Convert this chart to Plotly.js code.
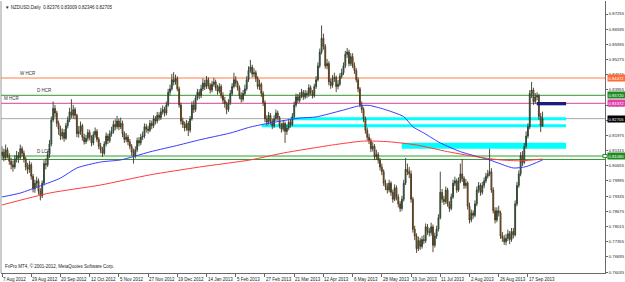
<!DOCTYPE html>
<html><head><meta charset="utf-8">
<script src="https://cdn.plot.ly/plotly-3.0.1.min.js"></script>
<style>html,body{margin:0;padding:0;background:#fff;}#chart{width:625px;height:282px;}</style>
</head><body><div id="chart"></div>
<script>
// ---------- data ----------
const firstDate = '2012-08-07';
const closedDays = ['2012-12-25','2013-01-01'];
const tickDates = ['2012-08-07','2012-08-29','2012-09-20','2012-10-12','2012-11-05','2012-11-27','2012-12-19','2013-01-14','2013-02-05','2013-02-27','2013-03-21','2013-04-12','2013-05-06','2013-05-28','2013-06-19','2013-07-11','2013-08-02','2013-08-26','2013-09-17'];
const tickLabels = ['7 Aug 2012','29 Aug 2012','20 Sep 2012','12 Oct 2012','5 Nov 2012','27 Nov 2012','19 Dec 2012','14 Jan 2013','5 Feb 2013','27 Feb 2013','21 Mar 2013','12 Apr 2013','6 May 2013','28 May 2013','19 Jun 2013','11 Jul 2013','2 Aug 2013','26 Aug 2013','17 Sep 2013'];
const priceTicks = [0.76035,0.76695,0.77355,0.78015,0.78675,0.79335,0.79995,0.80655,0.81315,0.81975,0.82635,0.83295,0.83955,0.84615,0.85275,0.85935,0.86595,0.87255];

const open = [
0.8110,0.8125,0.8100,0.8135,0.8110,0.8085,0.8070,0.8060,0.8095,0.8110,0.8100,0.8140,0.8120,0.8095,0.8060,0.8050,
0.8070,0.8020,0.7965,0.7990,0.8000,0.7955,0.7935,0.7990,0.8075,0.8070,0.8115,0.8160,0.8265,0.8315,0.8295,0.8250,
0.8225,0.8195,0.8210,0.8185,0.8240,0.8265,0.8300,0.8285,0.8310,0.8285,0.8205,0.8215,0.8240,0.8190,0.8170,0.8185,
0.8210,0.8190,0.8165,0.8200,0.8215,0.8180,0.8150,0.8135,0.8120,0.8160,0.8195,0.8175,0.8205,0.8215,0.8245,0.8235,
0.8260,0.8235,0.8250,0.8205,0.8180,0.8190,0.8170,0.8150,0.8125,0.8110,0.8135,0.8175,0.8165,0.8190,0.8195,0.8235,
0.8225,0.8220,0.8250,0.8240,0.8270,0.8260,0.8285,0.8275,0.8300,0.8310,0.8295,0.8330,0.8385,0.8400,0.8440,0.8430,
0.8445,0.8400,0.8330,0.8260,0.8245,0.8230,0.8250,0.8220,0.8270,0.8330,0.8310,0.8360,0.8385,0.8370,0.8400,0.8425,
0.8410,0.8440,0.8415,0.8395,0.8420,0.8430,0.8405,0.8390,0.8410,0.8370,0.8350,0.8335,0.8310,0.8340,0.8380,0.8410,
0.8440,0.8425,0.8405,0.8370,0.8355,0.8380,0.8400,0.8440,0.8480,0.8495,0.8465,0.8470,0.8445,0.8410,0.8420,0.8380,
0.8340,0.8270,0.8255,0.8285,0.8260,0.8240,0.8270,0.8295,0.8275,0.8240,0.8225,0.8250,0.8215,0.8230,0.8255,0.8245,
0.8280,0.8330,0.8365,0.8350,0.8370,0.8385,0.8365,0.8380,0.8375,0.8405,0.8385,0.8370,0.8410,0.8440,0.8500,0.8560,
0.8620,0.8585,0.8500,0.8510,0.8430,0.8415,0.8445,0.8450,0.8410,0.8420,0.8455,0.8470,0.8500,0.8550,0.8560,0.8510,
0.8540,0.8500,0.8480,0.8440,0.8400,0.8330,0.8310,0.8270,0.8220,0.8190,0.8175,0.8140,0.8150,0.8105,0.8115,0.8090,
0.8060,0.8040,0.7990,0.7975,0.7960,0.7990,0.7950,0.7920,0.7970,0.7930,0.7900,0.7880,0.7920,0.7990,0.8050,0.8040,
0.8030,0.7920,0.7790,0.7760,0.7705,0.7740,0.7715,0.7745,0.7740,0.7800,0.7780,0.7775,0.7800,0.7720,0.7760,0.7790,
0.7840,0.7950,0.7920,0.7910,0.7960,0.7900,0.7880,0.7930,0.7990,0.8000,0.7960,0.8000,0.8030,0.8010,0.7980,0.7990,
0.7890,0.7830,0.7860,0.7850,0.7900,0.7960,0.7980,0.7950,0.7980,0.8000,0.8020,0.8030,0.8040,0.7960,0.7870,0.7830,
0.7870,0.7860,0.7760,0.7750,0.7735,0.7750,0.7770,0.7745,0.7780,0.7765,0.7900,0.7980,0.8030,0.8110,0.8080,0.8150,
0.8195,0.8235,0.8380,0.8395,0.8345,0.8365,0.8370,0.8280,0.82376];
const high = [
0.8150,0.8140,0.8158,0.8145,0.8120,0.8100,0.8088,0.8112,0.8130,0.8125,0.8158,0.8150,0.8132,0.8105,0.8078,0.8088,
0.8080,0.8030,0.8005,0.8018,0.8010,0.7968,0.8002,0.8090,0.8098,0.8130,0.8178,0.8280,0.8345,0.8330,0.8305,0.8262,
0.8240,0.8228,0.8225,0.8252,0.8280,0.8318,0.8355,0.8330,0.8320,0.8292,0.8238,0.8258,0.8248,0.8205,0.8200,0.8225,
0.8222,0.8198,0.8215,0.8232,0.8225,0.8190,0.8165,0.8148,0.8172,0.8210,0.8205,0.8220,0.8235,0.8262,0.8268,0.8282,
0.8270,0.8275,0.8262,0.8215,0.8208,0.8200,0.8182,0.8160,0.8140,0.8150,0.8188,0.8190,0.8205,0.8215,0.8250,0.8248,
0.8240,0.8265,0.8262,0.8285,0.8282,0.8300,0.8298,0.8318,0.8328,0.8322,0.8345,0.8400,0.8418,0.8465,0.8473,0.8462,
0.8455,0.8410,0.8340,0.8275,0.8258,0.8265,0.8260,0.8282,0.8345,0.8350,0.8372,0.8400,0.8398,0.8418,0.8445,0.8440,
0.8456,0.8450,0.8425,0.8435,0.8448,0.8440,0.8418,0.8425,0.8420,0.8385,0.8365,0.8345,0.8355,0.8395,0.8425,0.8470,
0.8455,0.8435,0.8415,0.8385,0.8395,0.8418,0.8455,0.8498,0.8526,0.8505,0.8490,0.8480,0.8455,0.8440,0.8428,0.8390,
0.8350,0.8285,0.8300,0.8295,0.8270,0.8285,0.8310,0.8305,0.8282,0.8252,0.8265,0.8258,0.8245,0.8270,0.8268,0.8295,
0.8345,0.8380,0.8378,0.8385,0.8400,0.8395,0.8395,0.8392,0.8420,0.8415,0.8395,0.8422,0.8455,0.8515,0.8575,0.8676,
0.8640,0.8595,0.8530,0.8520,0.8445,0.8460,0.8470,0.8458,0.8438,0.8468,0.8488,0.8515,0.8565,0.8578,0.8570,0.8555,
0.8555,0.8515,0.8490,0.8450,0.8408,0.8345,0.8320,0.8280,0.8232,0.8205,0.8185,0.8168,0.8160,0.8135,0.8125,0.8100,
0.8075,0.8050,0.8005,0.7990,0.8005,0.7998,0.7962,0.7985,0.7980,0.7942,0.7912,0.7935,0.8005,0.8100,0.8075,0.8060,
0.8045,0.7930,0.7805,0.7772,0.7758,0.7752,0.7760,0.7765,0.7815,0.7812,0.7795,0.7818,0.7810,0.7775,0.7805,0.7855,
0.8040,0.7965,0.7935,0.7975,0.7970,0.7912,0.7945,0.8005,0.8018,0.8010,0.8015,0.8075,0.8095,0.8020,0.8008,0.7998,
0.7905,0.7875,0.7872,0.7915,0.7975,0.7995,0.7990,0.7995,0.8015,0.8035,0.8048,0.8140,0.8055,0.7972,0.7885,0.7885,
0.7892,0.7870,0.7778,0.7765,0.7768,0.7788,0.7782,0.7795,0.7795,0.7915,0.7995,0.8045,0.8125,0.8130,0.8165,0.8215,
0.8250,0.8395,0.8430,0.8405,0.8382,0.8385,0.8378,0.8295,0.83009];
const low = [
0.8095,0.8085,0.8090,0.8098,0.8070,0.8050,0.8040,0.8052,0.8080,0.8078,0.8092,0.8105,0.8080,0.8045,0.8030,0.8035,
0.8005,0.7950,0.7948,0.7972,0.7940,0.7915,0.7925,0.7980,0.8050,0.8060,0.8100,0.8150,0.8255,0.8275,0.8235,0.8200,
0.8178,0.8180,0.8170,0.8178,0.8228,0.8255,0.8272,0.8270,0.8268,0.8190,0.8188,0.8200,0.8175,0.8158,0.8160,0.8172,
0.8176,0.8150,0.8155,0.8188,0.8168,0.8138,0.8120,0.8104,0.8112,0.8150,0.8160,0.8165,0.8192,0.8205,0.8220,0.8225,
0.8220,0.8225,0.8190,0.8165,0.8168,0.8155,0.8138,0.8110,0.8075,0.8098,0.8125,0.8150,0.8155,0.8178,0.8185,0.8210,
0.8205,0.8212,0.8225,0.8230,0.8245,0.8250,0.8262,0.8265,0.8288,0.8280,0.8285,0.8322,0.8372,0.8392,0.8415,0.8418,
0.8390,0.8318,0.8245,0.8230,0.8215,0.8218,0.8195,0.8210,0.8262,0.8295,0.8300,0.8350,0.8355,0.8360,0.8390,0.8395,
0.8400,0.8400,0.8380,0.8385,0.8410,0.8392,0.8375,0.8380,0.8358,0.8335,0.8318,0.8290,0.8300,0.8330,0.8370,0.8402,
0.8410,0.8392,0.8355,0.8340,0.8345,0.8370,0.8392,0.8430,0.8470,0.8450,0.8452,0.8430,0.8398,0.8395,0.8365,0.8325,
0.8255,0.8240,0.8245,0.8245,0.8225,0.8230,0.8260,0.8262,0.8228,0.8210,0.8215,0.8165,0.8200,0.8220,0.8232,0.8238,
0.8272,0.8320,0.8338,0.8340,0.8360,0.8352,0.8355,0.8360,0.8365,0.8372,0.8358,0.8362,0.8400,0.8432,0.8490,0.8550,
0.8570,0.8488,0.8485,0.8415,0.8400,0.8405,0.8430,0.8386,0.8398,0.8412,0.8445,0.8460,0.8490,0.8535,0.8498,0.8500,
0.8490,0.8465,0.8428,0.8385,0.8320,0.8295,0.8255,0.8205,0.8175,0.8160,0.8125,0.8128,0.8090,0.8092,0.8075,0.8045,
0.8025,0.7978,0.7960,0.7945,0.7950,0.7935,0.7905,0.7912,0.7915,0.7885,0.7865,0.7870,0.7910,0.7982,0.8025,0.8012,
0.7905,0.7775,0.7742,0.7687,0.7695,0.7700,0.7705,0.7725,0.7730,0.7765,0.7758,0.7762,0.7690,0.7710,0.7748,0.7780,
0.7832,0.7905,0.7895,0.7900,0.7888,0.7865,0.7872,0.7922,0.7978,0.7948,0.7952,0.7990,0.7995,0.7965,0.7968,0.7875,
0.7815,0.7820,0.7835,0.7842,0.7890,0.7948,0.7935,0.7940,0.7968,0.7990,0.8010,0.8020,0.7948,0.7858,0.7815,0.7820,
0.7845,0.7748,0.7735,0.7722,0.7720,0.7738,0.7725,0.7735,0.7750,0.7758,0.7890,0.7970,0.8020,0.8065,0.8072,0.8140,
0.8185,0.8225,0.8360,0.8330,0.8335,0.8350,0.8265,0.8212,0.82346];
const close = [
0.8125,0.8100,0.8135,0.8110,0.8085,0.8070,0.8060,0.8095,0.8110,0.8100,0.8140,0.8120,0.8095,0.8060,0.8050,0.8070,
0.8020,0.7965,0.7990,0.8000,0.7955,0.7935,0.7990,0.8075,0.8070,0.8115,0.8160,0.8265,0.8315,0.8295,0.8250,0.8225,
0.8195,0.8210,0.8185,0.8240,0.8265,0.8300,0.8285,0.8310,0.8285,0.8205,0.8215,0.8240,0.8190,0.8170,0.8185,0.8210,
0.8190,0.8165,0.8200,0.8215,0.8180,0.8150,0.8135,0.8120,0.8160,0.8195,0.8175,0.8205,0.8215,0.8245,0.8235,0.8260,
0.8235,0.8250,0.8205,0.8180,0.8190,0.8170,0.8150,0.8125,0.8110,0.8135,0.8175,0.8165,0.8190,0.8195,0.8235,0.8225,
0.8220,0.8250,0.8240,0.8270,0.8260,0.8285,0.8275,0.8300,0.8310,0.8295,0.8330,0.8385,0.8400,0.8440,0.8430,0.8445,
0.8400,0.8330,0.8260,0.8245,0.8230,0.8250,0.8220,0.8270,0.8330,0.8310,0.8360,0.8385,0.8370,0.8400,0.8425,0.8410,
0.8440,0.8415,0.8395,0.8420,0.8430,0.8405,0.8390,0.8410,0.8370,0.8350,0.8335,0.8310,0.8340,0.8380,0.8410,0.8440,
0.8425,0.8405,0.8370,0.8355,0.8380,0.8400,0.8440,0.8480,0.8495,0.8465,0.8470,0.8445,0.8410,0.8420,0.8380,0.8340,
0.8270,0.8255,0.8285,0.8260,0.8240,0.8270,0.8295,0.8275,0.8240,0.8225,0.8250,0.8215,0.8230,0.8255,0.8245,0.8280,
0.8330,0.8365,0.8350,0.8370,0.8385,0.8365,0.8380,0.8375,0.8405,0.8385,0.8370,0.8410,0.8440,0.8500,0.8560,0.8620,
0.8585,0.8500,0.8510,0.8430,0.8415,0.8445,0.8450,0.8410,0.8420,0.8455,0.8470,0.8500,0.8550,0.8560,0.8510,0.8540,
0.8500,0.8480,0.8440,0.8400,0.8330,0.8310,0.8270,0.8220,0.8190,0.8175,0.8140,0.8150,0.8105,0.8115,0.8090,0.8060,
0.8040,0.7990,0.7975,0.7960,0.7990,0.7950,0.7920,0.7970,0.7930,0.7900,0.7880,0.7920,0.7990,0.8050,0.8040,0.8030,
0.7920,0.7790,0.7760,0.7705,0.7740,0.7715,0.7745,0.7740,0.7800,0.7780,0.7775,0.7800,0.7720,0.7760,0.7790,0.7840,
0.7950,0.7920,0.7910,0.7960,0.7900,0.7880,0.7930,0.7990,0.8000,0.7960,0.8000,0.8030,0.8010,0.7980,0.7990,0.7890,
0.7830,0.7860,0.7850,0.7900,0.7960,0.7980,0.7950,0.7980,0.8000,0.8020,0.8030,0.8040,0.7960,0.7870,0.7830,0.7870,
0.7860,0.7760,0.7750,0.7735,0.7750,0.7770,0.7745,0.7780,0.7765,0.7900,0.7980,0.8030,0.8110,0.8080,0.8150,0.8195,
0.8235,0.8380,0.8395,0.8345,0.8365,0.8370,0.8280,0.8240,0.82705];

// moving averages (sampled, bar number / value)
const maFastBars = [0,10,21,32,41,54,65,81,97,108,125,136,147,163,172,187,196,201,209,220,225,231,240,251,267,280,287,296];
const maFastVals = [0.7930,0.7947,0.7978,0.8012,0.8056,0.8082,0.8091,0.8126,0.8156,0.8178,0.8208,0.8234,0.8252,0.8273,0.8278,0.8308,0.8327,0.8328,0.8312,0.8279,0.8235,0.8208,0.8165,0.8127,0.8091,0.8056,0.8062,0.8091];
const maSlowBars = [0,26,54,81,108,136,154,181,198,212,227,244,262,273,284,296];
const maSlowVals = [0.7895,0.7947,0.7982,0.8026,0.8060,0.8091,0.8121,0.8156,0.8173,0.8170,0.8156,0.8127,0.8102,0.8091,0.8087,0.8095];

// horizontal levels
const levelNames  = ['W HCR','D HCR','M HCR','','D LCR',''];
const levelPrices = [0.84472,0.83720,0.83372,0.82705,0.81080,0.80930];
const levelLabelBars = [8.8,18,0,0,18,0];
const levelTagged = [true,true,true,true,true,false];

// zones (rectangles)
const zoneStartBar = [157.7,142.2,218.9];
const zoneEndBar   = [308.9,308.9,308.9];
const zoneTop      = [0.82769,0.82459,0.81659];
const zoneBottom   = [0.82630,0.82329,0.81398];
const navyZone = {start:292.8, end:308.9, top:0.83429, bottom:0.83285};

const headerText = '\u25BC NZDUSD,Daily  0.82376 0.83009 0.82346 0.82705';
const footerText = 'FxPro MT4, \u00A9 2001-2012, MetaQuotes Software Corp.';

// ---------- build ----------
const barDates = [];
{
  let d = new Date(firstDate + 'T00:00:00Z');
  while (barDates.length < close.length) {
    const s = d.toISOString().slice(0,10);
    const wd = d.getUTCDay();
    if (wd >= 1 && wd <= 5 && closedDays.indexOf(s) < 0) barDates.push(s);
    d = new Date(d.getTime() + 86400000);
  }
}
const bars = close.map((_, i) => i);
const tickIdx = tickDates.map(d => barDates.indexOf(d));

const FONT = 'Liberation Sans, Arial, sans-serif';
const FS = 4.5;
const AFS = 4.2;
const levelColors = ['#ff7a45','#2f9a2f','#d4449c','#a8a8a8','#2f9a2f','#2f9a2f'];
const tagColors   = ['#ff6a35','#1f8a1f','#e040a8','#000000','#1f8a1f',''];

const traces = [
  {type:'candlestick', x:bars, open:open, high:high, low:low, close:close,
   increasing:{line:{color:'#2c3e2e', width:0.9}, fillcolor:'#3e7048'},
   decreasing:{line:{color:'#4a3418', width:0.9}, fillcolor:'#b07a38'},
   whiskerwidth:0, hoverinfo:'skip', showlegend:false},
  {type:'scatter', mode:'lines', x:maFastBars, y:maFastVals, line:{color:'#3a3aff', width:1, shape:'spline', smoothing:0.6}, hoverinfo:'skip', showlegend:false},
  {type:'scatter', mode:'lines', x:maSlowBars, y:maSlowVals, line:{color:'#ff3c3c', width:1, shape:'spline', smoothing:0.6}, hoverinfo:'skip', showlegend:false}
];

const shapes = [];
zoneStartBar.forEach((s, i) => shapes.push({type:'rect', xref:'x', yref:'y', x0:s, x1:zoneEndBar[i], y0:zoneBottom[i], y1:zoneTop[i], fillcolor:'#00ffff', line:{width:0}, layer:'below'}));
shapes.push({type:'rect', xref:'x', yref:'y', x0:navyZone.start, x1:navyZone.end, y0:navyZone.bottom, y1:navyZone.top, fillcolor:'#1c1c80', line:{width:0}, layer:'above'});
levelPrices.forEach((p, i) => shapes.push({type:'line', xref:'paper', yref:'y', x0:0, x1:1, y0:p, y1:p, line:{color:levelColors[i], width:1}, layer:'below'}));
shapes.push({type:'line', xref:'paper', yref:'paper', x0:0, x1:0, y0:0, y1:1, line:{color:'#9a9a9a', width:1}});
shapes.push({type:'rect', xref:'paper', yref:'y', x0:0.9965, x1:1.0035, y0:levelPrices[4]-0.0007, y1:levelPrices[4]+0.0007, fillcolor:'#ffffff', line:{color:'#1f8a1f', width:1}, layer:'above'});

const annotations = [];
levelNames.forEach((n, i) => { if (n) annotations.push({xref:'x', yref:'y', x:levelLabelBars[i], y:levelPrices[i], text:n, showarrow:false, xanchor:'left', yanchor:'bottom', yshift:0, font:{family:FONT, size:FS, color:'#333'}}); });
levelPrices.forEach((p, i) => { if (levelTagged[i]) annotations.push({xref:'paper', yref:'y', x:1, y:p, text:p.toFixed(5), showarrow:false, xanchor:'left', yanchor:'middle', xshift:2, bgcolor:tagColors[i], borderpad:0.5, font:{family:FONT, size:AFS, color:'#fff'}}); });
tickIdx.forEach((ix, i) => annotations.push({xref:'x', yref:'paper', x:ix, y:0, text:tickLabels[i], showarrow:false, xanchor:'left', yanchor:'top', yshift:-1.5, xshift:-1, font:{family:FONT, size:FS, color:'#222'}}));
annotations.push({xref:'paper', yref:'paper', x:0, y:1, text:headerText, showarrow:false, xanchor:'left', yanchor:'top', xshift:2, yshift:-2, font:{family:FONT, size:FS, color:'#222'}});
annotations.push({xref:'paper', yref:'paper', x:0, y:0, text:footerText, showarrow:false, xanchor:'left', yanchor:'bottom', xshift:2, yshift:2, font:{family:FONT, size:FS, color:'#222'}});

const layout = {
  width:625, height:282,
  margin:{l:1, r:20, t:1, b:9, pad:0},
  paper_bgcolor:'#ffffff', plot_bgcolor:'#ffffff',
  showlegend:false,
  xaxis:{range:[-0.55, 330.2], showgrid:false, zeroline:false, showticklabels:false,
         tickmode:'array', tickvals:tickIdx, ticks:'outside', ticklen:3, tickcolor:'#666', tickwidth:1,
         showline:true, linecolor:'#6a6a6a', linewidth:1, rangeslider:{visible:false}, fixedrange:true, automargin:false},
  yaxis:{side:'right', range:[0.75994, 0.87820], tickmode:'array', tickvals:priceTicks, tickformat:'.5f',
         ticks:'outside', ticklen:2, tickcolor:'#666', showline:true, linecolor:'#6a6a6a', linewidth:1,
         showgrid:false, zeroline:false, tickfont:{family:FONT, size:AFS, color:'#222'}, automargin:false, fixedrange:true},
  shapes:shapes, annotations:annotations
};
Plotly.newPlot('chart', traces, layout, {staticPlot:true, displayModeBar:false});
</script></body></html>
